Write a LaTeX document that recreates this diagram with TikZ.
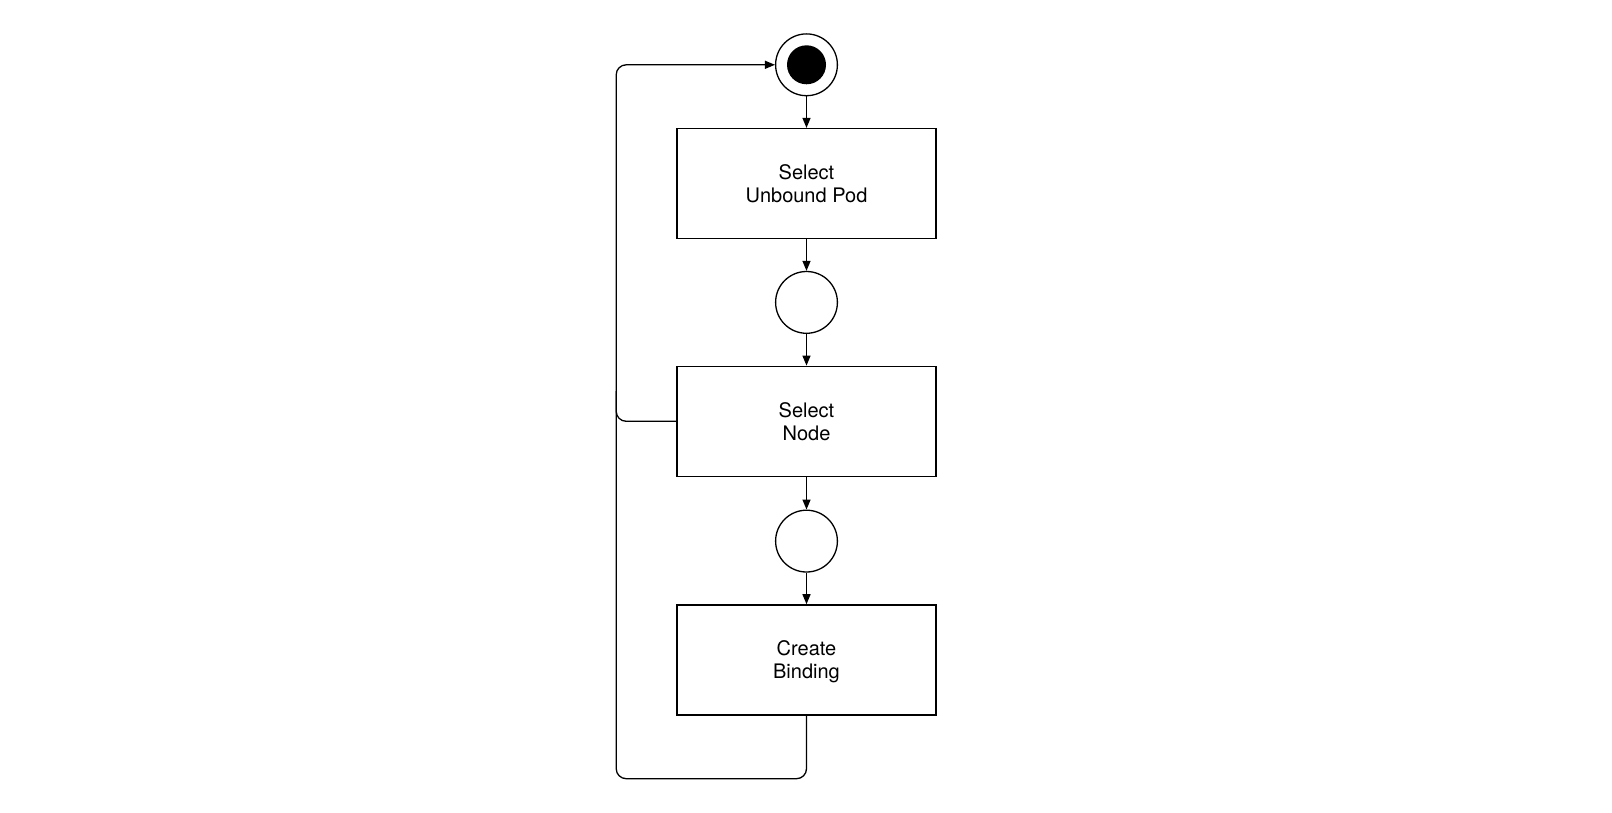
\documentclass[tikz,border=0pt]{standalone}
\usepackage{fontspec}
\setmainfont{TeX Gyre Heros}
\usetikzlibrary{arrows.meta}
\begin{document}
\begin{tikzpicture}[x=1pt,y=-1pt,
  line width=1.3pt,
  box/.style={draw, minimum width=259.2pt, minimum height=110.1pt, align=center, font=\fontsize{20}{23}\selectfont, inner sep=0pt},
  junction/.style={draw, circle, minimum size=61.8pt, inner sep=0pt},
  flow/.style={-{Triangle[length=10pt,width=8pt]}}]
\useasboundingbox (0,0) rectangle (1612,813);
\node[junction] (start) at (806.5,64.8) {};
\fill (806.5,64.8) circle[radius=19.5pt];
\node[box] (pod) at (806.5,183.6) {Select\\Unbound Pod};
\node[box] (node) at (806.5,421.3) {Select\\Node};
\node[junction] (j1) at (806.5,302.4) {};
\node[junction] (j2) at (806.5,541.1) {};
\node[box] (bind) at (806.5,659.9) {Create\\\raisebox{0pt}[\height][0pt]{Binding}};
\coordinate (bl) at (616.2,778.7);
\coordinate (tl) at (616.2,64.8);
\coordinate (ml) at (616.2,391);
\draw[flow] (start) -- (pod);
\draw[flow] (pod) -- (j1);
\draw[flow] (j1) -- (node);
\draw[flow] (node) -- (j2);
\draw[flow] (j2) -- (bind);
\draw[flow, rounded corners=10pt] (bind.south) |- (bl) -- (tl) -- (start.west);
\draw[rounded corners=10pt] (node.west) -| (ml);
\end{tikzpicture}
\end{document}
